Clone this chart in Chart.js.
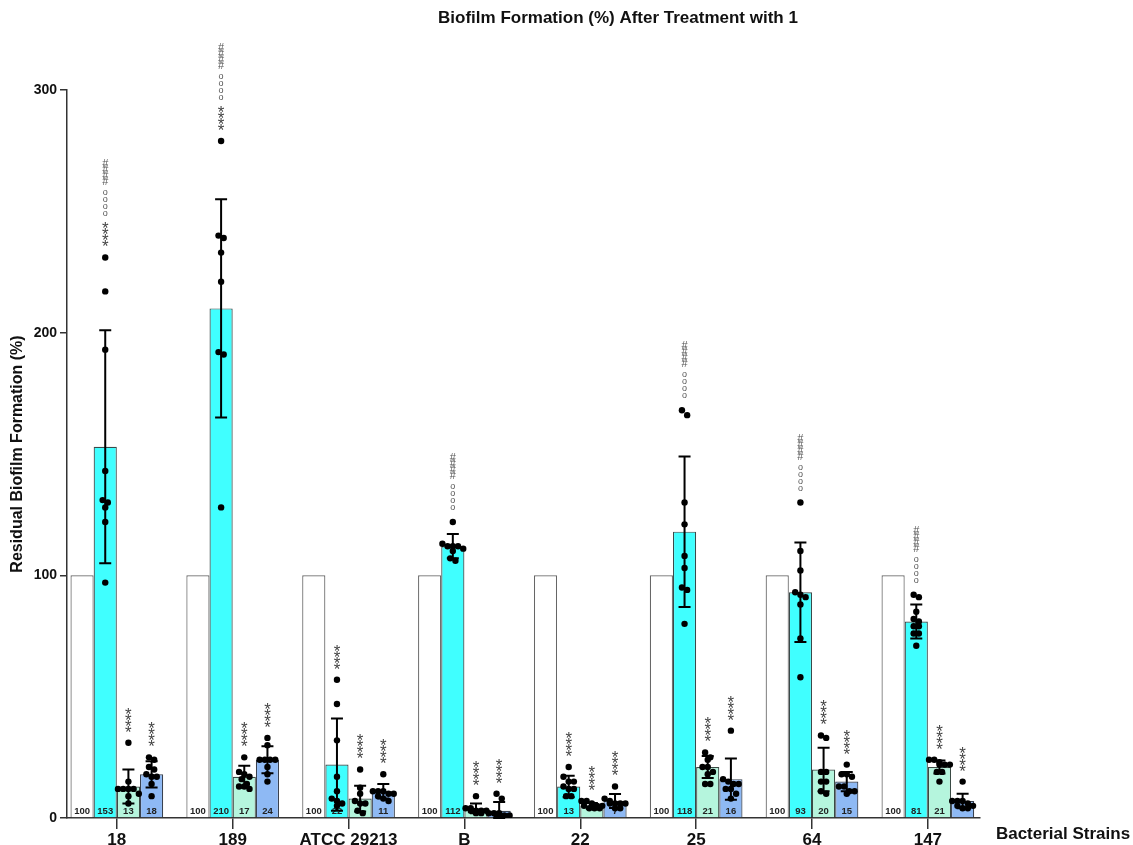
<!DOCTYPE html>
<html>
<head>
<meta charset="utf-8">
<script src="https://cdn.jsdelivr.net/npm/chart.js@4.4.1/dist/chart.umd.min.js"></script>
<style>
html, body { margin: 0; padding: 0; background: #fff; }
</style>
</head>
<body>
<canvas id="cvs" width="1133" height="845"></canvas>
<script>
// strains and group means (the printed labels)
var strains = ["18", "189", "ATCC 29213", "B", "22", "25", "64", "147"];
var ctrlMean = [100, 100, 100, 100, 100, 100, 100, 100];
var cyanMean = [153, 210, 22, 112, 13, 118, 93, 81];
var greenMean = [13, 17, 8, 4, 5, 21, 20, 21];
var blueMean = [18, 24, 11, 3, 7, 16, 15, 7];

// standard deviations
var cyanSD = [48, 45, 19, 5, 4.4, 31, 20.5, 7];
var greenSD = [7, 4.5, 5.3, 2, 1.2, 4.5, 9, 2.7];
var blueSD = [5.4, 5.6, 3, 3.6, 2.9, 8.5, 4, 3];

// replicate values
var cyanPts = [
	[231, 217, 193, 143, 131, 130, 128, 122, 97],
	[279, 240, 239, 233, 221, 192, 191, 128],
	[57, 47, 32, 17, 11, 8, 7, 6, 5],
	[122, 113, 112, 112, 111, 112, 110, 107, 106],
	[21, 17, 15, 15, 12, 12, 9, 9, 13],
	[168, 166, 130, 121, 108, 103, 95, 94, 80],
	[130, 110, 102, 93, 92, 91, 88, 74, 58],
	[92, 91, 85, 82, 81, 79, 79, 76, 76, 71]
];
var greenPts = [
	[31, 15, 12, 12, 12, 12, 10, 9, 6],
	[25, 19, 18, 17, 16, 14, 13, 13, 12],
	[20, 12.5, 10, 7, 6, 6, 3, 2],
	[9, 4, 4, 3, 3, 3, 2, 2, 3],
	[7, 7, 6, 5, 5, 4, 4, 4, 5],
	[27, 25, 24, 21, 21, 19, 18, 14, 14],
	[34, 33, 19, 19, 15, 15, 11, 10],
	[24, 24, 23, 22, 22, 22, 19, 19, 15]
];
var bluePts = [
	[25, 24, 21, 20, 18, 17, 17, 14, 9],
	[33, 30, 24, 24, 24, 24, 21, 18, 15],
	[18, 11, 11, 10, 10, 11, 8, 7, 9],
	[10, 8, 2, 2, 1, 1, 0.5, 0.5, 2],
	[13, 8, 6, 6, 6, 6, 4, 4, 7],
	[36, 16, 15, 14, 14, 12, 12, 10, 8],
	[22, 18, 18, 17, 13, 13, 11, 11, 10],
	[15, 7, 7, 7, 6, 5, 5, 4, 4]
];

// significance marks, bottom to top
var cyanMarks = ["****|oooo|####", "****|oooo|####", "****", "oooo|####", "****", "oooo|####", "oooo|####", "oooo|####"];
var greenMarks = ["****", "****", "****", "****", "****", "****", "****", "****"];
var blueMarks = ["****", "****", "****", "****", "****", "****", "****", "****"];

// bar value labels that are hidden under the dots in the original
var greenLabelHidden = [false, false, true, true, true, false, false, false];
var blueLabelHidden = [false, false, false, true, false, false, false, true];

Chart.defaults.font.family = '"Liberation Sans", Arial, sans-serif';
Chart.defaults.color = "#111";

const BAR_W = 0.2;      // one bar in x units (0.8 / 4)
const SLOT = 0.045;     // horizontal dot spacing in x units
const MAX_ROW = 5;

// spread dots of similar value side by side, centred on the bar
function swarm(vals) {
	var idx = vals.map((v, i) => i).sort((a, b) => vals[b] - vals[a]);
	var off = new Array(vals.length).fill(0);
	var i = 0;
	while (i < idx.length) {
		var j = i;
		while (j + 1 < idx.length && j - i + 1 < MAX_ROW && vals[idx[i]] - vals[idx[j + 1]] < 2.2)
			j++;
		var n = j - i + 1;
		for (var k = i; k <= j; k++)
			off[idx[k]] = (k - i) - (n - 1) / 2;
		i = j + 1;
	}
	return off;
}

function dots(ptsList, barIndex) {
	var out = [];
	ptsList.forEach(function (pts, g) {
		var off = swarm(pts);
		pts.forEach(function (v, n) {
			out.push({ x: g + (barIndex - 1.5) * BAR_W + off[n] * SLOT, y: v });
		});
	});
	return out;
}

function bars(means) {
	return means.map((v, i) => ({ x: i, y: v }));
}

var series = [
	{ label: "Control", mean: ctrlMean, color: "#ffffff", border: "#666666" },
	{ label: "1 (a)", mean: cyanMean, sd: cyanSD, marks: cyanMarks, pts: cyanPts, color: "#40ffff", border: "#3a4a4a" },
	{ label: "1 (b)", mean: greenMean, sd: greenSD, marks: greenMarks, pts: greenPts, hidden: greenLabelHidden, color: "#b5f5dd", border: "#3a4a44" },
	{ label: "1 (c)", mean: blueMean, sd: blueSD, marks: blueMarks, pts: bluePts, hidden: blueLabelHidden, color: "#8eb9f4", border: "#3a4250" }
];

var datasets = [];
series.forEach(function (s) {
	datasets.push({
		type: "bar",
		label: s.label,
		data: bars(s.mean),
		backgroundColor: s.color,
		borderColor: s.border,
		borderWidth: 1.2,
		order: 2
	});
});
series.forEach(function (s, k) {
	if (!s.pts)
		return;
	datasets.push({
		type: "scatter",
		label: s.label + " replicates",
		data: dots(s.pts, k),
		backgroundColor: "#000",
		borderWidth: 0,
		pointRadius: 3.2,
		order: 1
	});
});

function drawBarExtras(chart) {
	const ctx = chart.ctx;
	const ys = chart.scales.y;
	series.forEach(function (s, k) {
		const meta = chart.getDatasetMeta(k);
		meta.data.forEach(function (el, i) {
			// value label at bar foot
			if (!(s.hidden && s.hidden[i])) {
				ctx.save();
				ctx.fillStyle = "#222";
				ctx.font = "bold 9.5px " + Chart.defaults.font.family;
				ctx.textAlign = "center";
				ctx.textBaseline = "alphabetic";
				ctx.fillText(String(Math.round(s.mean[i])), el.x, ys.bottom - 4);
				ctx.restore();
			}
			if (!s.sd)
				return;
			const top = ys.getPixelForValue(s.mean[i] + s.sd[i]);
			const bot = ys.getPixelForValue(Math.max(s.mean[i] - s.sd[i], 0));
			ctx.save();
			ctx.strokeStyle = "#000";
			ctx.lineWidth = 2;
			ctx.beginPath();
			ctx.moveTo(el.x, top);
			ctx.lineTo(el.x, bot);
			ctx.moveTo(el.x - 6, top);
			ctx.lineTo(el.x + 6, top);
			ctx.moveTo(el.x - 6, bot);
			ctx.lineTo(el.x + 6, bot);
			ctx.stroke();
			ctx.restore();
		});
	});
}

function drawMarks(chart) {
	const ctx = chart.ctx;
	const ys = chart.scales.y;
	const fam = Chart.defaults.font.family;
	const style = {
		"*": { font: "17px " + fam, step: 6, color: "#444" },
		"o": { font: "9px " + fam, step: 7, color: "#555" },
		"#": { font: "11px " + fam, step: 6, color: "#555" }
	};
	series.forEach(function (s, k) {
		if (!s.marks)
			return;
		const meta = chart.getDatasetMeta(k);
		meta.data.forEach(function (el, i) {
			const hi = Math.max(Math.max.apply(null, s.pts[i]), s.mean[i] + s.sd[i]);
			let y = ys.getPixelForValue(hi) - 11;
			s.marks[i].split("|").forEach(function (grp) {
				for (const ch of grp) {
					const st = style[ch];
					ctx.save();
					ctx.font = st.font;
					ctx.fillStyle = st.color;
					ctx.textAlign = "center";
					const m = ctx.measureText(ch);
					const asc = m.actualBoundingBoxAscent, desc = m.actualBoundingBoxDescent;
					const cy = y - st.step / 2;
					ctx.textBaseline = "alphabetic";
					ctx.fillText(ch, el.x, cy + (asc - desc) / 2);
					ctx.restore();
					y -= st.step;
				}
				y -= 5;
			});
		});
	});
}

var decor = {
	id: "decor",
	afterDatasetDraw: function (chart, args) {
		if (args.index === 0)
			drawBarExtras(chart);
	},
	afterDatasetsDraw: function (chart) {
		drawMarks(chart);
	},
	afterDraw: function (chart) {
		const ctx = chart.ctx;
		const area = chart.chartArea;
		ctx.save();
		ctx.fillStyle = "#111";
		ctx.textAlign = "center";
		ctx.textBaseline = "middle";
		ctx.font = "bold 17px " + Chart.defaults.font.family;
		ctx.fillText("Biofilm Formation (%) After Treatment with 1", area.left + 551, 18);
		ctx.font = "bold 17px " + Chart.defaults.font.family;
		ctx.fillText("Bacterial Strains", area.right + 83, area.bottom + 16);
		ctx.restore();
	}
};

var axisFont = { weight: "bold", size: 14 };

var config = {
	type: "bar",
	data: { datasets: datasets },
	options: {
		responsive: false,
		animation: false,
		events: [],
		layout: { padding: { top: 90, right: 153, bottom: 0, left: 0 } },
		datasets: {
			bar: { categoryPercentage: 0.8, barPercentage: 1.0 }
		},
		plugins: {
			legend: { display: false },
			tooltip: { enabled: false },
			title: { display: false }
		},
		scales: {
			x: {
				type: "linear",
				min: -0.43,
				max: 7.45,
				offset: false,
				grid: { offset: false, drawOnChartArea: false, drawTicks: true, tickLength: 11, color: "#333", lineWidth: 1.5 },
				border: { display: true, color: "#333", width: 1.5 },
				ticks: {
					stepSize: 1,
					includeBounds: false,
					autoSkip: false,
					maxRotation: 0,
					padding: 1,
					color: "#111",
					font: { weight: "bold", size: 17 },
					callback: function (v) { return Number.isInteger(v) ? strains[v] : ""; }
				},
				afterFit: function (scale) { scale.height = 27; }
			},
			y: {
				min: 0,
				max: 300,
				grid: { drawOnChartArea: false, drawTicks: true, tickLength: 7, color: "#333", lineWidth: 1.5 },
				border: { display: true, color: "#333", width: 1.5 },
				ticks: { stepSize: 100, padding: 3, color: "#111", font: axisFont },
				title: {
					display: true,
					text: "Residual Biofilm Formation (%)",
					color: "#111",
					font: { weight: "bold", size: 16 },
					padding: { top: 8, bottom: 0 }
				},
				afterFit: function (scale) { scale.width = 67; }
			}
		}
	},
	plugins: [decor]
};

var chart = new Chart(document.getElementById("cvs"), config);
</script>
</body>
</html>
